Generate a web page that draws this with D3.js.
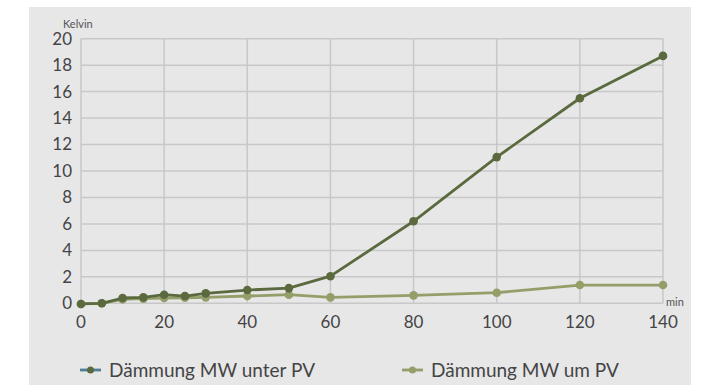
<!DOCTYPE html>
<html>
<head>
<meta charset="utf-8">
<script src="https://cdn.jsdelivr.net/npm/d3@7"></script>
<style>
  body { margin: 0; background: #fff; font-family: Lato, "Noto Sans", sans-serif; }
  .grid line { stroke: #c8c8c8; stroke-width: 1.5; }
  .tick-label { fill: #444; font-size: 17px; }
  .unit { fill: #555; font-size: 11px; }
  .legend-text { fill: #444; font-size: 19px; }
</style>
</head>
<body>
<div id="chart"></div>
<script>
const minutes  = [0, 5, 10, 15, 20, 25, 30, 40, 50, 60, 80, 100, 120, 140]
const unterPV  = [-0.05, 0, 0.4, 0.45, 0.65, 0.55, 0.75, 1.0, 1.15, 2.05, 6.2, 11.05, 15.5, 18.7]
const umPV     = [-0.05, 0, 0.3, 0.35, 0.4, 0.42, 0.45, 0.55, 0.65, 0.45, 0.6, 0.8, 1.38, 1.38]
const xTicks   = [0, 20, 40, 60, 80, 100, 120, 140]
const yTicks   = [0, 2, 4, 6, 8, 10, 12, 14, 16, 18, 20]

const series = [
  {name: 'Dämmung MW unter PV', values: unterPV, color: '#5a6a3e', legendLine: '#4e7f96'},
  {name: 'Dämmung MW um PV', values: umPV, color: '#949e68', legendLine: '#949e68'}
]

const width = 718, height = 385
const margin = {left: 81, top: 38.7, right: 55, bottom: 81.7}

const svg = d3.select('#chart').append('svg')
  .attr('width', width)
  .attr('height', height)

// grey panel
svg.append('rect')
  .attr('x', 29).attr('y', 7)
  .attr('width', 662).attr('height', height - 7)
  .attr('fill', '#e7e7e8')

const x = d3.scaleLinear().domain([0, 140]).range([margin.left, width - margin.right])
const y = d3.scaleLinear().domain([0, 20]).range([height - margin.bottom, margin.top])

const grid = svg.append('g').attr('class', 'grid')

grid.selectAll('.h').data(yTicks).join('line')
  .attr('x1', x(0)).attr('x2', x(140))
  .attr('y1', d => y(d)).attr('y2', d => y(d))

grid.selectAll('.v').data(xTicks).join('line')
  .attr('x1', d => x(d)).attr('x2', d => x(d))
  .attr('y1', y(0)).attr('y2', y(20))

svg.append('g').selectAll('text').data(yTicks).join('text')
  .attr('class', 'tick-label')
  .attr('x', x(0) - 9)
  .attr('y', d => y(d))
  .attr('dy', '0.35em')
  .attr('text-anchor', 'end')
  .text(d => d)

svg.append('g').selectAll('text').data(xTicks).join('text')
  .attr('class', 'tick-label')
  .attr('x', d => x(d))
  .attr('y', y(0) + 25)
  .attr('text-anchor', 'middle')
  .text(d => d)

svg.append('text').attr('class', 'unit')
  .attr('x', 63).attr('y', 28)
  .text('Kelvin')

svg.append('text').attr('class', 'unit')
  .attr('x', x(140) + 3).attr('y', y(0) + 3)
  .text('min')

const line = d3.line()
  .x((d, i) => x(minutes[i]))
  .y(d => y(d))

// light series first so the dark one sits on top
series.slice().reverse().forEach(s => {
  const g = svg.append('g')
  g.append('path')
    .datum(s.values)
    .attr('fill', 'none')
    .attr('stroke', s.color)
    .attr('stroke-width', 2.8)
    .attr('stroke-linejoin', 'round')
    .attr('d', line)
  g.selectAll('circle').data(s.values).join('circle')
    .attr('cx', (d, i) => x(minutes[i]))
    .attr('cy', d => y(d))
    .attr('r', 4.3)
    .attr('fill', s.color)
})

// legend
const legendX = [80, 402]
const legendY = 370
series.forEach((s, i) => {
  const g = svg.append('g').attr('transform', `translate(${legendX[i]},${legendY})`)
  g.append('line')
    .attr('x1', 0).attr('x2', 21)
    .attr('stroke', s.legendLine).attr('stroke-width', 2.8)
  g.append('circle').attr('cx', 10.5).attr('r', 3.5).attr('fill', s.color)
  g.append('text').attr('class', 'legend-text')
    .attr('x', 29).attr('dy', '0.35em')
    .text(s.name)
})
</script>
</body>
</html>
